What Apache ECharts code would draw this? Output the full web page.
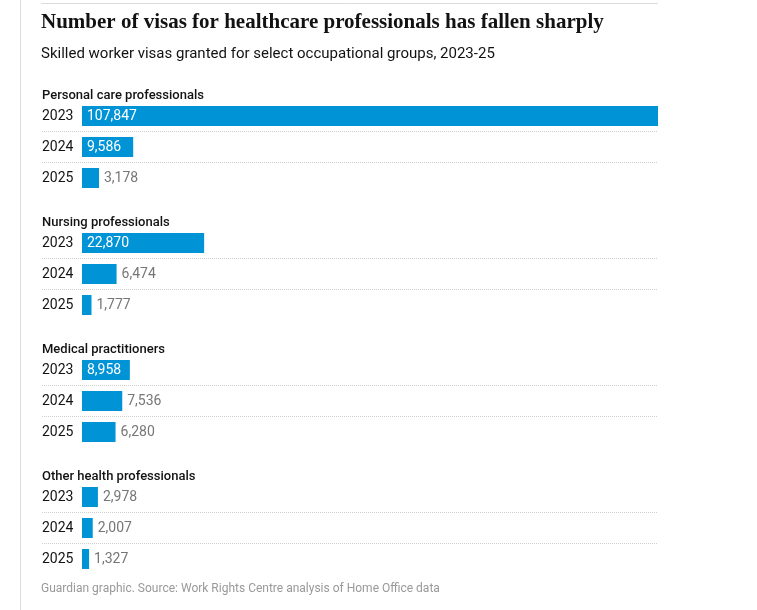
<!DOCTYPE html>
<html>
<head>
<meta charset="utf-8">
<script src="https://cdn.jsdelivr.net/npm/echarts@6/dist/echarts.min.js"></script>
<style>
  html, body { margin: 0; padding: 0; background: #fff; }
  #main { width: 757px; height: 610px; }
</style>
</head>
<body>
<div id="main"></div>
<script>
        var groups = ['Personal care professionals', 'Nursing professionals', 'Medical practitioners', 'Other health professionals'];
        var years = ['2023', '2024', '2025'];
        var personalCare = [107847, 9586, 3178];
        var nursing = [22870, 6474, 1777];
        var medical = [8958, 7536, 6280];
        var otherHealth = [2978, 2007, 1327];
        var groupValues = [personalCare, nursing, medical, otherHealth];

        var myChart = echarts.init(document.getElementById('main'));

        var font = 'Roboto';
        var barColor = '#0093d6';
        var maxValue = 107847;
        // space at the left of each row for the year label, in value units
        var gutter = maxValue * 40 / 576;

        var grids = [], xAxes = [], yAxes = [], series = [], titles = [];
        groupValues.forEach(function (vals, i) {
            var top = 100.5 + 127 * i;
            grids.push({ left: 42, right: 99, top: top, height: 93 });
            titles.push({
                text: groups[i],
                left: 42,
                top: top - 11,
                padding: 0,
                textStyle: { fontFamily: font, fontSize: 13, fontWeight: 500, color: '#121212' }
            });
            xAxes.push({
                type: 'value', gridIndex: i, min: -gutter, max: maxValue,
                show: false, splitLine: { show: false }
            });
            yAxes.push({
                type: 'category', gridIndex: i, data: years, inverse: true,
                axisLine: { show: false }, axisTick: { show: false },
                axisLabel: { inside: true, margin: 0, color: '#121212', fontFamily: font, fontSize: 14 },
                splitLine: {
                    show: true, showMinLine: false, showMaxLine: false,
                    lineStyle: { type: 'dotted', color: '#cfcfcf', width: 1 }
                }
            });
            series.push({
                type: 'bar', xAxisIndex: i, yAxisIndex: i, barWidth: 20,
                itemStyle: { color: barColor },
                data: vals.map(function (v) {
                    var inside = v >= 8000;
                    return {
                        value: v,
                        label: {
                            show: true,
                            position: inside ? 'insideLeft' : 'right',
                            distance: 5,
                            color: inside ? '#ffffff' : '#767676',
                            fontFamily: font,
                            fontSize: 14,
                            fontWeight: 'normal',
                            formatter: function (p) { return p.value.toLocaleString('en-US'); }
                        }
                    };
                })
            });
        });

        titles.push({
            text: 'Number of visas for healthcare professionals has fallen sharply',
            left: 41, top: 12, padding: 0,
            textStyle: { fontFamily: 'Liberation Serif', fontSize: 21, fontWeight: 'bold', color: '#121212' }
        });
        titles.push({
            text: 'Skilled worker visas granted for select occupational groups, 2023-25',
            left: 41, top: 47, padding: 0,
            textStyle: { fontFamily: font, fontSize: 15, fontWeight: 'normal', color: '#121212' }
        });
        titles.push({
            text: 'Guardian graphic. Source: Work Rights Centre analysis of Home Office data',
            left: 41, top: 583, padding: 0,
            textStyle: { fontFamily: font, fontSize: 12, fontWeight: 'normal', color: '#999999' }
        });

        var option = {
            backgroundColor: '#ffffff',
            animation: false,
            title: titles,
            grid: grids,
            xAxis: xAxes,
            yAxis: yAxes,
            series: series,
            graphic: [
                { type: 'line', shape: { x1: 20.5, y1: 0, x2: 20.5, y2: 610 }, style: { stroke: '#dcdcdc', lineWidth: 1 } },
                { type: 'line', shape: { x1: 41, y1: 3.5, x2: 658, y2: 3.5 }, style: { stroke: '#dcdcdc', lineWidth: 1 } }
            ]
        };
        myChart.setOption(option);
</script>
</body>
</html>
